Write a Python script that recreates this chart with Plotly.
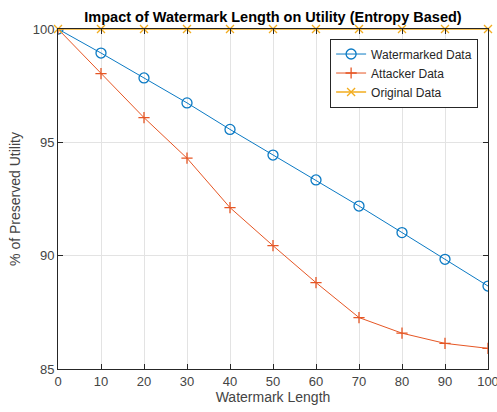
import plotly.graph_objects as go

x_vals = [0, 10, 20, 30, 40, 50, 60, 70, 80, 90, 100]
watermarked = [100, 98.94, 97.84, 96.74, 95.57, 94.44, 93.34, 92.19, 91.02, 89.84, 88.66]
attacker = [100, 98.03, 96.09, 94.30, 92.12, 90.44, 88.81, 87.27, 86.58, 86.13, 85.91]
original = [100] * 11

blue = "#0B7AC4"
red = "#E65624"
yellow = "#F2AC1E"
axis_col = "#262626"
tick_col = "#444444"
font_fam = "Liberation Sans, Arial, sans-serif"

fig = go.Figure()
fig.add_trace(go.Scatter(x=x_vals, y=watermarked, name="Watermarked Data", mode="lines+markers",
                         line=dict(color=blue, width=1),
                         marker=dict(symbol="circle-open", size=10, color=blue, line=dict(width=1.3))))
fig.add_trace(go.Scatter(x=x_vals, y=attacker, name="Attacker Data", mode="lines+markers",
                         line=dict(color=red, width=1),
                         marker=dict(symbol="cross-thin-open", size=8, color=red, line=dict(width=1.3, color=red))))
fig.add_trace(go.Scatter(x=x_vals, y=original, name="Original Data", mode="lines+markers",
                         line=dict(color=yellow, width=1.5),
                         marker=dict(symbol="x-thin-open", size=8, color=yellow, line=dict(width=1.3, color=yellow)),
                         cliponaxis=False))

fig.update_layout(
    width=497, height=412,
    margin=dict(l=58, r=9, t=29, b=43, autoexpand=False),
    paper_bgcolor="white", plot_bgcolor="white",
    font=dict(family=font_fam, size=13, color=axis_col),
    title=dict(text="<b>Impact of Watermark Length on Utility (Entropy Based)</b>",
               x=(58 + 215) / 497, xanchor="center", y=1 - 17 / 412, yanchor="middle",
               font=dict(size=14.5, color="#000000")),
    showlegend=True,
    legend=dict(x=0.977, xanchor="right", y=0.972, yanchor="top",
                bordercolor="#262626", borderwidth=1, bgcolor="white",
                font=dict(size=12, color=axis_col), tracegroupgap=0, itemwidth=30),
)
fig.update_xaxes(range=[0, 100], tickvals=list(range(0, 101, 10)),
                 showgrid=True, gridcolor="#e3e3e3", gridwidth=1,
                 showline=True, linecolor=axis_col, linewidth=1, mirror="ticks",
                 ticks="inside", ticklen=5, tickcolor=axis_col, zeroline=False,
                 ticklabeloverflow="allow", automargin=False,
                 title=dict(text="Watermark Length", font=dict(size=14, color=tick_col), standoff=4),
                 tickfont=dict(size=13, color=tick_col))
fig.update_yaxes(range=[85, 100], tickvals=[85, 90, 95, 100],
                 showgrid=True, gridcolor="#e3e3e3", gridwidth=1,
                 showline=True, linecolor=axis_col, linewidth=1, mirror="ticks",
                 ticks="inside", ticklen=5, tickcolor=axis_col, zeroline=False,
                 automargin=False,
                 title=dict(text="% of Preserved Utility", font=dict(size=14, color=tick_col), standoff=8),
                 tickfont=dict(size=13, color=tick_col))

fig.write_html("out.html")
